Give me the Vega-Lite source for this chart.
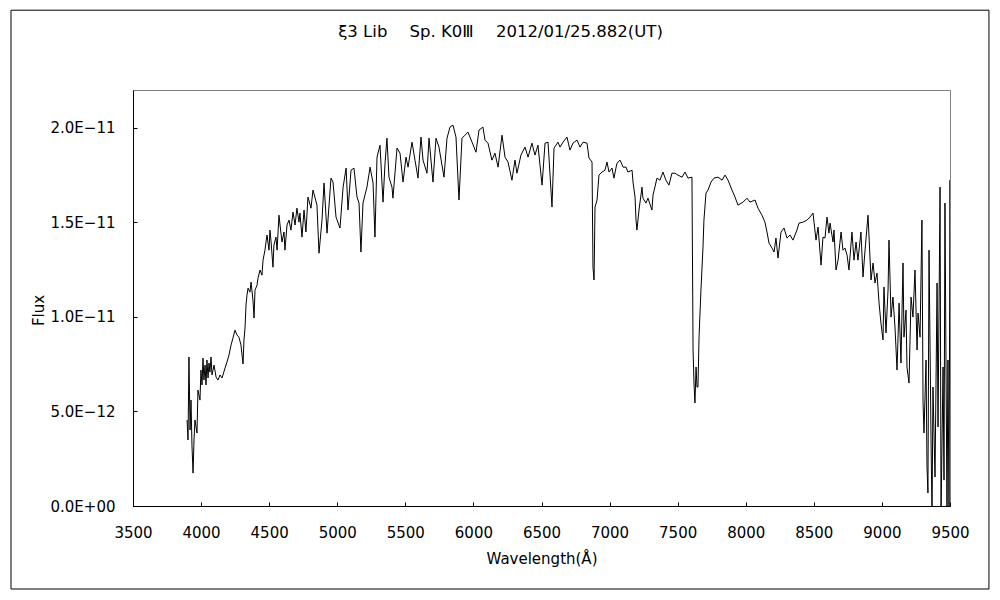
{
  "$schema": "https://vega.github.io/schema/vega-lite/v6.json",
  "width": 817,
  "height": 416,
  "autosize": {"type": "none"},
  "padding": {"left": 133, "top": 90, "right": 50, "bottom": 94},
  "background": "white",
  "config": {"view": {"stroke": "#808080", "strokeWidth": 1}, "font": "DejaVu Sans"},
  "title": {"text": "ξ3 Lib　 Sp. K0Ⅲ　 2012/01/25.882(UT)", "frame": "group", "anchor": "middle", "fontSize": 16.5, "fontWeight": "normal", "baseline": "alphabetic", "offset": -44, "dx": -41, "color": "black", "font": "DejaVu Sans"},
  "datasets": {
    "spec": [
      {"w":3897,"f":0.455e-11},{"w":3904,"f":0.349e-11},{"w":3911,"f":0.788e-11},{"w":3919,"f":0.402e-11},{"w":3926,"f":0.560e-11},{"w":3933,"f":0.322e-11},{"w":3941,"f":0.174e-11},{"w":3948,"f":0.349e-11},{"w":3955,"f":0.455e-11},{"w":3970,"f":0.386e-11},{"w":3977,"f":0.613e-11},{"w":3992,"f":0.560e-11},{"w":3999,"f":0.719e-11},{"w":4007,"f":0.640e-11},{"w":4014,"f":0.782e-11},{"w":4021,"f":0.666e-11},{"w":4029,"f":0.745e-11},{"w":4036,"f":0.640e-11},{"w":4043,"f":0.772e-11},{"w":4051,"f":0.677e-11},{"w":4058,"f":0.756e-11},{"w":4065,"f":0.708e-11},{"w":4073,"f":0.788e-11},{"w":4080,"f":0.693e-11},{"w":4095,"f":0.745e-11},{"w":4110,"f":0.682e-11},{"w":4124,"f":0.666e-11},{"w":4139,"f":0.693e-11},{"w":4154,"f":0.677e-11},{"w":4176,"f":0.730e-11},{"w":4190,"f":0.761e-11},{"w":4205,"f":0.798e-11},{"w":4220,"f":0.851e-11},{"w":4234,"f":0.888e-11},{"w":4249,"f":0.930e-11},{"w":4264,"f":0.904e-11},{"w":4278,"f":0.893e-11},{"w":4293,"f":0.851e-11},{"w":4308,"f":0.751e-11},{"w":4315,"f":0.878e-11},{"w":4323,"f":0.946e-11},{"w":4330,"f":1.063e-11},{"w":4337,"f":1.115e-11},{"w":4345,"f":1.152e-11},{"w":4359,"f":1.131e-11},{"w":4367,"f":1.184e-11},{"w":4381,"f":1.089e-11},{"w":4389,"f":0.994e-11},{"w":4396,"f":1.142e-11},{"w":4411,"f":1.168e-11},{"w":4418,"f":1.205e-11},{"w":4433,"f":1.248e-11},{"w":4447,"f":1.221e-11},{"w":4455,"f":1.300e-11},{"w":4469,"f":1.353e-11},{"w":4484,"f":1.433e-11},{"w":4499,"f":1.353e-11},{"w":4506,"f":1.459e-11},{"w":4513,"f":1.406e-11},{"w":4528,"f":1.263e-11},{"w":4535,"f":1.380e-11},{"w":4550,"f":1.422e-11},{"w":4558,"f":1.353e-11},{"w":4572,"f":1.538e-11},{"w":4580,"f":1.486e-11},{"w":4594,"f":1.396e-11},{"w":4609,"f":1.449e-11},{"w":4616,"f":1.353e-11},{"w":4631,"f":1.486e-11},{"w":4646,"f":1.512e-11},{"w":4660,"f":1.459e-11},{"w":4675,"f":1.554e-11},{"w":4690,"f":1.486e-11},{"w":4704,"f":1.575e-11},{"w":4719,"f":1.501e-11},
      {"w":4726,"f":1.549e-11},{"w":4741,"f":1.422e-11},{"w":4756,"f":1.565e-11},{"w":4770,"f":1.449e-11},{"w":4785,"f":1.634e-11},{"w":4807,"f":1.575e-11},{"w":4822,"f":1.671e-11},{"w":4851,"f":1.591e-11},{"w":4866,"f":1.337e-11},{"w":4888,"f":1.512e-11},{"w":4903,"f":1.708e-11},{"w":4925,"f":1.443e-11},{"w":4954,"f":1.734e-11},{"w":4969,"f":1.713e-11},{"w":4991,"f":1.528e-11},{"w":5020,"f":1.470e-11},{"w":5043,"f":1.686e-11},{"w":5065,"f":1.787e-11},{"w":5079,"f":1.565e-11},{"w":5101,"f":1.776e-11},{"w":5123,"f":1.787e-11},{"w":5145,"f":1.634e-11},{"w":5160,"f":1.602e-11},{"w":5174,"f":1.343e-11},{"w":5189,"f":1.602e-11},{"w":5218,"f":1.686e-11},{"w":5241,"f":1.792e-11},{"w":5263,"f":1.708e-11},{"w":5277,"f":1.422e-11},{"w":5292,"f":1.845e-11},{"w":5314,"f":1.908e-11},{"w":5336,"f":1.607e-11},{"w":5351,"f":1.813e-11},{"w":5365,"f":1.945e-11},{"w":5380,"f":1.739e-11},{"w":5402,"f":1.686e-11},{"w":5409,"f":1.628e-11},{"w":5439,"f":1.893e-11},{"w":5461,"f":1.866e-11},{"w":5483,"f":1.713e-11},{"w":5505,"f":1.845e-11},{"w":5520,"f":1.792e-11},{"w":5549,"f":1.924e-11},{"w":5571,"f":1.829e-11},{"w":5593,"f":1.734e-11},{"w":5615,"f":1.951e-11},{"w":5630,"f":1.829e-11},{"w":5659,"f":1.760e-11},{"w":5674,"f":1.945e-11},
      {"w":5703,"f":1.713e-11},{"w":5725,"f":1.945e-11},{"w":5747,"f":1.898e-11},{"w":5784,"f":1.739e-11},{"w":5806,"f":1.945e-11},{"w":5828,"f":2.004e-11},{"w":5850,"f":2.014e-11},{"w":5872,"f":1.951e-11},{"w":5894,"f":1.618e-11},{"w":5916,"f":1.945e-11},{"w":5938,"f":1.961e-11},{"w":5960,"f":1.977e-11},{"w":5990,"f":1.924e-11},{"w":6019,"f":1.871e-11},{"w":6041,"f":1.988e-11},{"w":6070,"f":2.004e-11},{"w":6085,"f":1.935e-11},{"w":6107,"f":1.919e-11},{"w":6136,"f":1.829e-11},{"w":6158,"f":1.866e-11},{"w":6181,"f":1.792e-11},{"w":6210,"f":1.961e-11},{"w":6232,"f":1.845e-11},{"w":6254,"f":1.819e-11},{"w":6283,"f":1.723e-11},{"w":6305,"f":1.829e-11},{"w":6320,"f":1.760e-11},{"w":6349,"f":1.856e-11},{"w":6379,"f":1.898e-11},{"w":6401,"f":1.845e-11},{"w":6430,"f":1.919e-11},{"w":6452,"f":1.856e-11},{"w":6474,"f":1.908e-11},{"w":6504,"f":1.697e-11},{"w":6526,"f":1.919e-11},{"w":6548,"f":1.924e-11},{"w":6577,"f":1.581e-11},{"w":6592,"f":1.893e-11},{"w":6621,"f":1.924e-11},
      {"w":6636,"f":1.898e-11},{"w":6658,"f":1.924e-11},{"w":6687,"f":1.951e-11},{"w":6709,"f":1.882e-11},{"w":6731,"f":1.919e-11},{"w":6761,"f":1.935e-11},{"w":6783,"f":1.898e-11},{"w":6805,"f":1.924e-11},{"w":6834,"f":1.919e-11},{"w":6849,"f":1.840e-11},{"w":6871,"f":1.819e-11},{"w":6878,"f":1.263e-11},{"w":6886,"f":1.195e-11},{"w":6893,"f":1.581e-11},{"w":6908,"f":1.618e-11},{"w":6922,"f":1.750e-11},{"w":6944,"f":1.766e-11},{"w":6966,"f":1.776e-11},{"w":6981,"f":1.819e-11},{"w":6996,"f":1.766e-11},{"w":7018,"f":1.787e-11},{"w":7032,"f":1.734e-11},{"w":7054,"f":1.813e-11},{"w":7077,"f":1.829e-11},{"w":7099,"f":1.792e-11},{"w":7121,"f":1.792e-11},{"w":7135,"f":1.766e-11},{"w":7165,"f":1.776e-11},{"w":7172,"f":1.713e-11},{"w":7187,"f":1.634e-11},{"w":7194,"f":1.512e-11},{"w":7201,"f":1.459e-11},{"w":7216,"f":1.565e-11},{"w":7238,"f":1.686e-11},{"w":7245,"f":1.628e-11},{"w":7267,"f":1.602e-11},{"w":7282,"f":1.628e-11},{"w":7311,"f":1.565e-11},{"w":7319,"f":1.644e-11},{"w":7348,"f":1.734e-11},{"w":7370,"f":1.723e-11},{"w":7392,"f":1.766e-11},{"w":7414,"f":1.723e-11},{"w":7436,"f":1.697e-11},{"w":7458,"f":1.760e-11},{"w":7480,"f":1.760e-11},{"w":7502,"f":1.750e-11},{"w":7532,"f":1.739e-11},{"w":7554,"f":1.766e-11},{"w":7576,"f":1.734e-11},{"w":7605,"f":1.739e-11},
      {"w":7613,"f":0.825e-11},{"w":7620,"f":0.650e-11},{"w":7627,"f":0.545e-11},{"w":7635,"f":0.735e-11},{"w":7642,"f":0.629e-11},{"w":7649,"f":0.629e-11},{"w":7657,"f":0.893e-11},{"w":7671,"f":1.142e-11},{"w":7686,"f":1.369e-11},{"w":7693,"f":1.512e-11},{"w":7708,"f":1.655e-11},{"w":7723,"f":1.671e-11},{"w":7745,"f":1.713e-11},{"w":7767,"f":1.734e-11},{"w":7796,"f":1.739e-11},{"w":7826,"f":1.723e-11},{"w":7848,"f":1.750e-11},{"w":7870,"f":1.723e-11},{"w":7899,"f":1.671e-11},{"w":7921,"f":1.634e-11},{"w":7943,"f":1.591e-11},{"w":7980,"f":1.607e-11},{"w":8009,"f":1.628e-11},{"w":8031,"f":1.607e-11},{"w":8068,"f":1.618e-11},{"w":8090,"f":1.575e-11},{"w":8119,"f":1.538e-11},{"w":8141,"f":1.501e-11},{"w":8156,"f":1.449e-11},{"w":8171,"f":1.390e-11},{"w":8193,"f":1.364e-11},{"w":8208,"f":1.343e-11},{"w":8222,"f":1.417e-11},{"w":8237,"f":1.311e-11},{"w":8259,"f":1.449e-11},{"w":8281,"f":1.470e-11},{"w":8303,"f":1.417e-11},{"w":8325,"f":1.433e-11},{"w":8347,"f":1.406e-11},{"w":8376,"f":1.459e-11},{"w":8391,"f":1.496e-11},{"w":8420,"f":1.501e-11},{"w":8450,"f":1.512e-11},{"w":8472,"f":1.528e-11},{"w":8494,"f":1.549e-11},{"w":8516,"f":1.406e-11},{"w":8531,"f":1.475e-11},{"w":8553,"f":1.274e-11},{"w":8567,"f":1.422e-11},{"w":8582,"f":1.417e-11},{"w":8597,"f":1.528e-11},{"w":8611,"f":1.443e-11},
      {"w":8619,"f":1.496e-11},{"w":8641,"f":1.396e-11},{"w":8648,"f":1.459e-11},{"w":8663,"f":1.248e-11},{"w":8678,"f":1.300e-11},{"w":8700,"f":1.449e-11},{"w":8714,"f":1.353e-11},{"w":8729,"f":1.364e-11},{"w":8744,"f":1.327e-11},{"w":8758,"f":1.248e-11},{"w":8780,"f":1.449e-11},{"w":8795,"f":1.300e-11},{"w":8810,"f":1.396e-11},{"w":8824,"f":1.300e-11},{"w":8846,"f":1.449e-11},{"w":8861,"f":1.211e-11},{"w":8876,"f":1.353e-11},{"w":8898,"f":1.538e-11},{"w":8920,"f":1.195e-11},{"w":8935,"f":1.285e-11},{"w":8949,"f":1.179e-11},{"w":8964,"f":1.232e-11},{"w":8979,"f":1.073e-11},{"w":8993,"f":0.967e-11},{"w":9008,"f":0.878e-11},{"w":9015,"f":1.158e-11},{"w":9030,"f":0.915e-11},{"w":9045,"f":1.142e-11},{"w":9052,"f":1.406e-11},{"w":9067,"f":0.999e-11},{"w":9081,"f":1.105e-11},{"w":9096,"f":0.946e-11},{"w":9111,"f":0.719e-11},{"w":9126,"f":1.073e-11},{"w":9140,"f":0.756e-11},{"w":9155,"f":1.285e-11},{"w":9162,"f":0.893e-11},{"w":9177,"f":1.036e-11},{"w":9184,"f":0.735e-11},{"w":9199,"f":0.650e-11},{"w":9214,"f":1.105e-11},{"w":9228,"f":0.999e-11},{"w":9243,"f":1.248e-11},{"w":9258,"f":0.825e-11},{"w":9265,"f":1.020e-11},{"w":9280,"f":0.893e-11},{"w":9294,"f":1.512e-11},{"w":9302,"f":0.545e-11},{"w":9309,"f":0.386e-11},{"w":9324,"f":0.772e-11},{"w":9331,"f":0.206e-11},{"w":9338,"f":0.069e-11},{"w":9346,"f":1.353e-11},{"w":9361,"f":0.333e-11},{"w":9368,"f":-0.05e-11},{"w":9375,"f":0.629e-11},{"w":9390,"f":0.153e-11},{"w":9405,"f":1.179e-11},{"w":9412,"f":0.418e-11},{"w":9427,"f":1.686e-11},{"w":9434,"f":-0.05e-11},{"w":9449,"f":0.735e-11},{"w":9456,"f":0.137e-11},{"w":9463,"f":1.602e-11},{"w":9478,"f":-0.05e-11},{"w":9485,"f":0.772e-11},{"w":9493,"f":-0.05e-11},{"w":9500,"f":1.723e-11},{"w":9507,"f":0.560e-11}
    ]
  },
  "layer": [
    {
      "data": {"name": "spec"},
      "mark": {"type": "line", "color": "black", "strokeWidth": 1, "clip": true},
      "encoding": {
        "x": {
          "field": "w", "type": "quantitative",
          "scale": {"domain": [3500, 9500], "nice": false, "zero": false},
          "axis": {
            "values": [3500, 4000, 4500, 5000, 5500, 6000, 6500, 7000, 7500, 8000, 8500, 9000, 9500],
            "format": "d", "grid": false, "tickSize": -4, "tickColor": "black", "domainColor": "black",
            "labelColor": "black", "labelFontSize": 15, "labelPadding": 23, "labelFlush": false, "labelOverlap": false,
            "title": "Wavelength(Å)", "titleFontSize": 15, "titleFontWeight": "normal", "titleColor": "black",
            "titleBaseline": "middle", "titleY": 52
          }
        },
        "y": {
          "field": "f", "type": "quantitative",
          "scale": {"domain": [0, 2.2e-11], "nice": false, "zero": false},
          "axis": {
            "values": [0, 5e-12, 1e-11, 1.5e-11, 2e-11],
            "labelExpr": "datum.value == 0 ? '0.0E+00' : replace(format(datum.value, '.1e'), 'e-', 'E−')",
            "grid": false, "tickSize": -4, "tickColor": "black", "domainColor": "black",
            "labelColor": "black", "labelFontSize": 15, "labelPadding": 22, "labelOverlap": false,
            "title": "Flux", "titleFontSize": 15, "titleFontWeight": "normal", "titleColor": "black",
            "titleBaseline": "middle", "titleAlign": "center", "titleAngle": -90, "titleX": -95, "titleY": 220
          }
        }
      }
    },
    {
      "data": {"values": [{}]},
      "mark": {"type": "rect", "fill": "transparent", "stroke": "black", "strokeWidth": 1, "clip": false},
      "encoding": {
        "x": {
          "datum": 2604, "type": "quantitative",
          "scale": {"domain": [3500, 9500], "nice": false, "zero": false},
          "axis": {
            "values": [3500, 4000, 4500, 5000, 5500, 6000, 6500, 7000, 7500, 8000, 8500, 9000, 9500],
            "format": "d", "grid": false, "tickSize": -4, "tickColor": "black", "domainColor": "black",
            "labelColor": "black", "labelFontSize": 15, "labelPadding": 23, "labelFlush": false, "labelOverlap": false,
            "title": "Wavelength(Å)", "titleFontSize": 15, "titleFontWeight": "normal", "titleColor": "black",
            "titleBaseline": "middle", "titleY": 52
          }
        },
        "x2": {"datum": 9786},
        "y": {
          "datum": 2.622e-11, "type": "quantitative",
          "scale": {"domain": [0, 2.2e-11], "nice": false, "zero": false},
          "axis": {
            "values": [0, 5e-12, 1e-11, 1.5e-11, 2e-11],
            "labelExpr": "datum.value == 0 ? '0.0E+00' : replace(format(datum.value, '.1e'), 'e-', 'E−')",
            "grid": false, "tickSize": -4, "tickColor": "black", "domainColor": "black",
            "labelColor": "black", "labelFontSize": 15, "labelPadding": 22, "labelOverlap": false,
            "title": "Flux", "titleFontSize": 15, "titleFontWeight": "normal", "titleColor": "black",
            "titleBaseline": "middle", "titleAlign": "center", "titleAngle": -90, "titleX": -95, "titleY": 220
          }
        },
        "y2": {"datum": -0.439e-11}
      }
    }
  ]
}
